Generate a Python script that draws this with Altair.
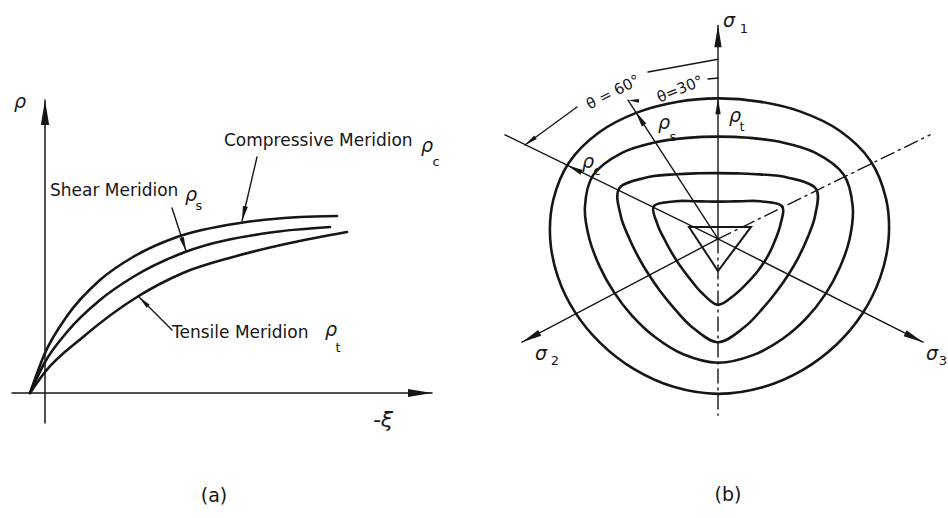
import math
import altair as alt
import pandas as pd

INK = "#161616"
FONT = "DejaVu Sans"
# arrowhead outline: tip at the symbol origin, pointing up before rotation
HEAD = "M0,0L0.4,2.4L-0.4,2.4Z"

# ---------------- (a) meridians in the (-xi, rho) plane ----------------
A_XDOM = [-4.5, 42.5]
A_YDOM = [-12.5, 39.3]
A_W, A_H = 470, 518

comp_xi = [-1.5, 0.0, 2.2, 5.5, 8.8, 13.2, 19.5, 25.5, 29.2]
comp_rho = [0.0, 4.0, 7.7, 11.3, 13.6, 15.6, 17.0, 17.6, 17.7]
shear_xi = [-1.5, 0.0, 2.2, 5.5, 8.8, 14.0, 22.2, 28.5]
shear_rho = [0.0, 3.1, 6.1, 9.3, 11.6, 14.1, 16.0, 16.6]
tens_xi = [-1.5, 0.0, 3.8, 9.2, 13.8, 18.8, 24.5, 30.2]
tens_rho = [0.0, 2.1, 5.6, 9.6, 12.0, 13.6, 15.0, 16.1]

# coordinate axes of panel (a)
a_axis_from = [(0.0, -3.0), (-3.3, 0.0)]
a_axis_to = [(0.0, 29.3), (38.7, 0.0)]
# leader lines from the labels to the meridians
a_ptr_from = [(21.2, 23.6), (12.7, 18.5), (12.7, 6.3)]
a_ptr_to = [(19.7, 17.2), (14.1, 14.2), (9.4, 9.6)]

a_labels = ["Compressive Meridion", "Shear Meridion", "Tensile Meridion"]
a_label_x = [17.9, 0.5, 12.7]
a_label_y = [24.7, 19.7, 5.5]

a_greek = ["ρ", "ρ", "ρ", "ρ"]
a_greek_x = [-2.5, 38.2, 14.6, 28.6]
a_greek_y = [28.5, 24.1, 19.2, 5.7]
a_sub = ["c", "s", "t"]
a_sub_x = [39.1, 15.4, 29.3]
a_sub_y = [22.7, 18.3, 4.1]

# ---------------- (b) deviatoric section ----------------
B_XDOM = [-24.8, 23.0]
B_YDOM = [-31.35, 26.85]
B_W, B_H = 478, 518

# polar angle measured clockwise from the sigma_1 projection, every 15 degrees
phi_deg = list(range(0, 360, 15))
r_outer = [15.8, 15.98, 16.52, 17.2, 17.6, 17.4, 17.06, 16.79, 16.7, 16.77, 16.98, 17.25,
           17.4, 17.2, 16.86, 16.59, 16.5, 16.57, 16.78, 17.05, 17.2, 16.89, 16.36, 15.94]
r_second = [11.5, 11.77, 12.58, 13.72, 14.5, 13.95, 13.16, 12.59, 12.4, 12.54, 12.94, 13.51,
            13.9, 13.41, 12.68, 12.17, 12.0, 12.22, 12.86, 13.78, 14.4, 13.65, 12.54, 11.76]
r_third = [7.4, 7.63, 8.38, 9.78, 11.3, 10.05, 8.9, 8.29, 8.1, 8.31, 8.98, 10.24,
           11.6, 10.2, 8.9, 8.22, 8.0, 8.2, 8.85, 10.07, 11.4, 9.84, 8.4, 7.64]
r_fourth = [4.2, 4.36, 4.9, 5.99, 7.4, 6.48, 5.76, 5.41, 5.3, 5.41, 5.76, 6.48,
            7.4, 6.26, 5.37, 4.93, 4.8, 4.93, 5.37, 6.26, 7.4, 5.99, 4.9, 4.36]

tri_x = [-2.9, 3.3, 0.0]
tri_y = [1.35, 1.35, -3.6]

# projected principal axes (solid) and their dash-dot extensions
b_solid_to = [(0.0, 24.0), (-19.6, -11.6), (20.5, -11.6), (-21.3, 11.7), (-9.0, 15.6)]
b_dash_to = [(0.0, -19.8), (21.2, 11.7)]
# dimension lines for the Lode angle
b_dim_from = [(0.0, 20.2), (-14.1, 14.83), (-1.0, 17.98)]
b_dim_to = [(-7.0, 18.76), (-19.3, 10.56), (0.0, 18.09)]

b_head_tip = [(0.0, 24.0), (-19.6, -11.6), (20.5, -11.6), (0.0, 15.8),
              (-8.26, 14.31), (-15.08, 8.28), (-19.3, 10.56), (-9.0, 15.6)]
b_head_from = [(0.0, 0.0), (0.0, 0.0), (0.0, 0.0), (0.0, 0.0),
               (0.0, 0.0), (0.0, 0.0), (-14.1, 14.83), (-7.6, 15.5)]
b_head_len = [22, 20, 20, 16, 16, 16, 13, 11]

b_greek = ["σ", "σ", "σ", "ρ", "ρ", "ρ"]
b_greek_x = [1.1, -17.7, 21.4, 1.7, -5.4, -13.0]
b_greek_y = [23.8, -13.6, -13.6, 13.1, 12.4, 8.0]
b_sub = ["1", "2", "3", "t", "s", "c"]
b_sub_x = [2.6, -16.3, 22.5, 2.4, -4.5, -12.1]
b_sub_y = [23.1, -14.2, -14.2, 12.1, 11.0, 7.2]

b_angle_text = ["θ = 60°", "θ=30°"]
b_angle_x = [-10.5, -3.8]
b_angle_y = [16.5, 16.85]
b_angle_rot = [333, 338]


def enc(xdom, ydom):
    return dict(
        x=alt.X("x:Q", scale=alt.Scale(domain=xdom, nice=False, zero=False), axis=None),
        y=alt.Y("y:Q", scale=alt.Scale(domain=ydom, nice=False, zero=False), axis=None),
    )


def paths_df(paths):
    rows = []
    for pid, (xs, ys) in enumerate(paths):
        for k, (x, y) in enumerate(zip(xs, ys)):
            rows.append({"id": pid, "k": k, "x": x, "y": y})
    return pd.DataFrame(rows)


def segments_df(starts, ends):
    return paths_df([([s[0], e[0]], [s[1], e[1]]) for s, e in zip(starts, ends)])


def heads_df(tips, froms, lengths, kx, ky):
    rows = []
    for (tx, ty), (fx, fy), length in zip(tips, froms, lengths):
        ang = math.degrees(math.atan2((tx - fx) * kx, (ty - fy) * ky)) % 360
        half = length / 2.4
        rows.append({"x": tx, "y": ty, "angle": ang, "size": (2 * half) ** 2})
    return pd.DataFrame(rows)


def text_df(texts, xs, ys, angles=None):
    d = pd.DataFrame({"text": texts, "x": xs, "y": ys})
    if angles is not None:
        d["angle"] = angles
    return d


def line_layer(df, ex, width, interp="linear", dash=None):
    kw = dict(color=INK, strokeWidth=width, interpolate=interp, strokeCap="round")
    if dash:
        kw["strokeDash"] = dash
    return alt.Chart(df).mark_line(**kw).encode(
        **ex, detail="id:N", order="k:Q"
    )


def head_layer(df, ex):
    return alt.Chart(df).mark_point(
        shape=HEAD, filled=True, color=INK, opacity=1, strokeWidth=0
    ).encode(
        **ex,
        angle=alt.Angle("angle:Q", scale=None),
        size=alt.Size("size:Q", scale=None),
    )


def text_layer(df, ex, size, style="normal", align="center", baseline="alphabetic"):
    mk = alt.Chart(df).mark_text(
        font=FONT, fontSize=size, fontStyle=style, color=INK,
        align=align, baseline=baseline,
    )
    if "angle" in df.columns:
        return mk.encode(**ex, text="text:N", angle=alt.Angle("angle:Q", scale=None))
    return mk.encode(**ex, text="text:N")


# ---------- build panel (a) ----------
ea = enc(A_XDOM, A_YDOM)
akx = A_W / (A_XDOM[1] - A_XDOM[0])
aky = A_H / (A_YDOM[1] - A_YDOM[0])

meridians = paths_df([(comp_xi, comp_rho), (shear_xi, shear_rho), (tens_xi, tens_rho)])
a_heads = heads_df(
    a_axis_to + a_ptr_to,
    [(0.0, 0.0), (0.0, 0.0)] + a_ptr_from,
    [25, 24, 15, 14, 13],
    akx, aky,
)

panel_a = alt.layer(
    line_layer(segments_df(a_axis_from, a_axis_to), ea, 1.5),
    line_layer(segments_df(a_ptr_from, a_ptr_to), ea, 1.4),
    line_layer(meridians, ea, 2.6, interp="monotone"),
    head_layer(a_heads, ea),
    text_layer(text_df(a_labels, a_label_x, a_label_y), ea, 17, align="left"),
    text_layer(text_df(a_greek, a_greek_x, a_greek_y), ea, 19, style="italic"),
    text_layer(text_df(a_sub, a_sub_x, a_sub_y), ea, 13),
    text_layer(text_df(["-ξ"], [33.8], [-2.7]), ea, 22, style="italic", baseline="middle"),
    text_layer(text_df(["(a)"], [16.9], [-10.9]), ea, 19),
).properties(width=A_W, height=A_H)

# ---------- build panel (b) ----------
eb = enc(B_XDOM, B_YDOM)
bkx = B_W / (B_XDOM[1] - B_XDOM[0])
bky = B_H / (B_YDOM[1] - B_YDOM[0])


def ring(radii):
    xs = [r * math.sin(math.radians(p)) for r, p in zip(radii, phi_deg)]
    ys = [r * math.cos(math.radians(p)) for r, p in zip(radii, phi_deg)]
    return xs, ys


contours = paths_df([ring(r_outer), ring(r_second), ring(r_third), ring(r_fourth)])
triangle = paths_df([(tri_x, tri_y)])
origin = [(0.0, 0.0)]

panel_b = alt.layer(
    line_layer(segments_df(origin * len(b_solid_to), b_solid_to), eb, 1.4),
    line_layer(segments_df(origin * len(b_dash_to), b_dash_to), eb, 1.4, dash=[14, 5, 2, 5]),
    line_layer(segments_df(b_dim_from, b_dim_to), eb, 1.4),
    line_layer(contours, eb, 2.6, interp="cardinal-closed"),
    line_layer(triangle, eb, 2.0, interp="linear-closed"),
    head_layer(heads_df(b_head_tip, b_head_from, b_head_len, bkx, bky), eb),
    text_layer(text_df(b_greek, b_greek_x, b_greek_y), eb, 19, style="italic"),
    text_layer(text_df(b_sub, b_sub_x, b_sub_y), eb, 13),
    text_layer(text_df(b_angle_text, b_angle_x, b_angle_y, b_angle_rot), eb, 15, baseline="middle"),
    text_layer(text_df(["(b)"], [1.0], [-29.4]), eb, 19),
).properties(width=B_W, height=B_H)

chart = (
    alt.hconcat(panel_a, panel_b, spacing=0)
    .properties(padding=0, background="white")
    .configure_view(stroke=None)
)

chart.save("out.html", embed_options={"renderer": "svg", "actions": False})
